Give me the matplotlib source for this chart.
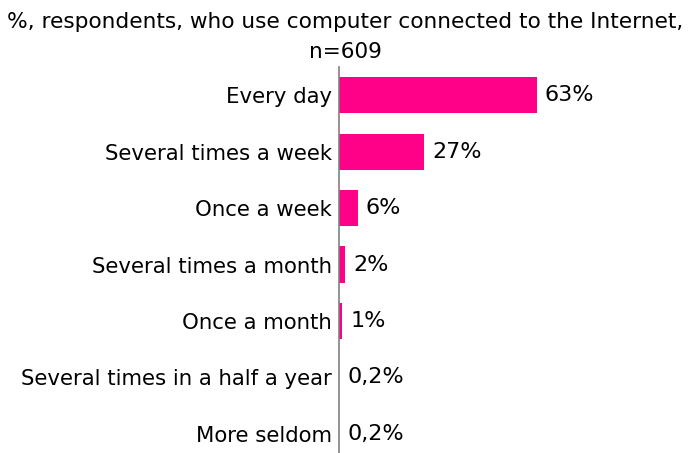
import matplotlib.pyplot as plt

# Frequency of use, % of respondents
categories = ['Every day', 'Several times a week', 'Once a week',
              'Several times a month', 'Once a month',
              'Several times in a half a year', 'More seldom']
values = [63, 27, 6, 2, 1, 0.2, 0.2]

def fmt(v):
    s = ('%g' % v).replace('.', ',')
    return s + '%'

fig = plt.figure(figsize=(6.9, 4.53), dpi=100)
ax = fig.add_axes([0.491, 0.0, 0.455, 0.852])

pos = list(range(len(categories)))
ax.barh(pos, values, height=0.64, color='#FF0088')
ax.set_xlim(0, 100)
ax.set_ylim(6.34, -0.5)

for p, v in zip(pos, values):
    ax.annotate(fmt(v), xy=(v, p), xytext=(6, 0), textcoords='offset points',
                va='center', ha='left', fontsize=16)

ax.set_yticks(pos)
ax.set_yticklabels(categories, fontsize=15.3)
ax.tick_params(axis='y', length=0, pad=5)
ax.set_xticks([])
for side in ['top', 'right', 'bottom']:
    ax.spines[side].set_visible(False)
ax.spines['left'].set_color('#808080')
ax.spines['left'].set_linewidth(1.2)

fig.text(0.5, 0.951, '%, respondents, who use computer connected to the Internet,',
         ha='center', va='center', fontsize=15.6)
fig.text(0.5, 0.886, 'n=609', ha='center', va='center', fontsize=15.6)

fig.savefig('out.png', dpi=100)
